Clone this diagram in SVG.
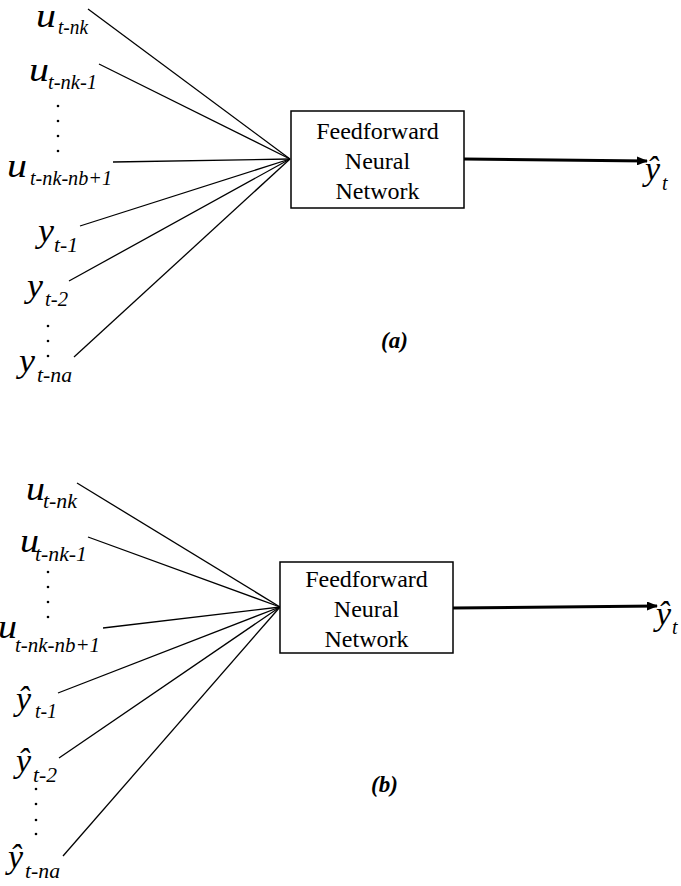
<svg xmlns="http://www.w3.org/2000/svg" width="681" height="886" viewBox="0 0 681 886">
<style>
text{font-family:"Liberation Serif","DejaVu Serif",serif;fill:#000}
.v{font-style:italic;font-size:34px}
.s{font-style:italic;font-size:20px}
.b{font-size:24px;text-anchor:middle}
.cap{font-style:italic;font-weight:bold;font-size:23px}
.ln{stroke:#000;stroke-width:1.3;fill:none}
.box{stroke:#000;stroke-width:1.5;fill:#fff}
.arr{stroke:#000;stroke-width:3;fill:none}
.dot{fill:#000}
</style>
<defs>
<marker id="ah" markerWidth="11" markerHeight="9" refX="10" refY="4.5" orient="auto" markerUnits="userSpaceOnUse">
<path d="M0,0 L11,4.5 L0,9 Z" fill="#000"/>
</marker>
</defs>

<!-- Diagram (a) -->
<g id="connectors-a">
<line class="ln" x1="88" y1="9" x2="290" y2="159"/>
<line class="ln" x1="99" y1="64" x2="290" y2="159"/>
<line class="ln" x1="113" y1="162" x2="290" y2="159"/>
<line class="ln" x1="80" y1="226" x2="290" y2="159"/>
<line class="ln" x1="69" y1="281" x2="290" y2="159"/>
<line class="ln" x1="74" y1="357" x2="290" y2="159"/>
<line class="arr" x1="464" y1="159" x2="647" y2="161" marker-end="url(#ah)"/>
</g>
<g id="box-a">
<rect class="box" x="291" y="111" width="173" height="97"/>
<text class="b" x="377.5" y="139">Feedforward</text>
<text class="b" x="377.5" y="169">Neural</text>
<text class="b" x="377.5" y="199">Network</text>
</g>
<g id="in-a-u1"><text class="v" x="36" y="27" textLength="20" lengthAdjust="spacingAndGlyphs">u</text><text class="s" x="58" y="34" textLength="30" lengthAdjust="spacingAndGlyphs">t-nk</text></g>
<g id="in-a-u2"><text class="v" x="29" y="81" textLength="20" lengthAdjust="spacingAndGlyphs">u</text><text class="s" x="48" y="89" textLength="49" lengthAdjust="spacingAndGlyphs">t-nk-1</text></g>
<g id="dots-a-u">
<circle class="dot" cx="58" cy="106" r="1.3"/><circle class="dot" cx="58" cy="121" r="1.3"/><circle class="dot" cx="58" cy="136" r="1.3"/><circle class="dot" cx="58" cy="151" r="1.3"/>
</g>
<g id="in-a-u3"><text class="v" x="7" y="177" textLength="20" lengthAdjust="spacingAndGlyphs">u</text><text class="s" x="30" y="185" textLength="82" lengthAdjust="spacingAndGlyphs">t-nk-nb+1</text></g>
<g id="in-a-y1"><text class="v" x="38" y="242" textLength="16" lengthAdjust="spacingAndGlyphs">y</text><text class="s" x="54" y="252" textLength="24" lengthAdjust="spacingAndGlyphs">t-1</text></g>
<g id="in-a-y2"><text class="v" x="27" y="297" textLength="16" lengthAdjust="spacingAndGlyphs">y</text><text class="s" x="45" y="306" textLength="23" lengthAdjust="spacingAndGlyphs">t-2</text></g>
<g id="dots-a-y">
<circle class="dot" cx="48" cy="326" r="1.3"/><circle class="dot" cx="48" cy="341" r="1.3"/><circle class="dot" cx="48" cy="356" r="1.3"/>
</g>
<g id="in-a-yn"><text class="v" x="19" y="372" textLength="16" lengthAdjust="spacingAndGlyphs">y</text><text class="s" x="37" y="382" textLength="35" lengthAdjust="spacingAndGlyphs">t-na</text></g>
<g id="out-a"><text class="v" x="645" y="180">ŷ</text><text class="s" x="662" y="190">t</text></g>
<g id="cap-a"><text class="cap" x="381" y="348">(a)</text></g>

<!-- Diagram (b) -->
<g id="connectors-b">
<line class="ln" x1="77" y1="483" x2="280" y2="607"/>
<line class="ln" x1="88" y1="537" x2="280" y2="607"/>
<line class="ln" x1="103" y1="628" x2="280" y2="607"/>
<line class="ln" x1="58" y1="693" x2="280" y2="607"/>
<line class="ln" x1="59" y1="758" x2="280" y2="607"/>
<line class="ln" x1="63" y1="856" x2="280" y2="607"/>
<line class="arr" x1="453" y1="608" x2="657" y2="606" marker-end="url(#ah)"/>
</g>
<g id="box-b">
<rect class="box" x="280" y="562" width="173" height="91"/>
<text class="b" x="366.5" y="587">Feedforward</text>
<text class="b" x="366.5" y="617">Neural</text>
<text class="b" x="366.5" y="647">Network</text>
</g>
<g id="in-b-u1"><text class="v" x="26" y="500" textLength="19" lengthAdjust="spacingAndGlyphs">u</text><text class="s" x="43" y="508" textLength="34" lengthAdjust="spacingAndGlyphs">t-nk</text></g>
<g id="in-b-u2"><text class="v" x="20" y="552" textLength="19" lengthAdjust="spacingAndGlyphs">u</text><text class="s" x="35" y="561" textLength="52" lengthAdjust="spacingAndGlyphs">t-nk-1</text></g>
<g id="dots-b-u">
<circle class="dot" cx="48" cy="572" r="1.3"/><circle class="dot" cx="48" cy="587" r="1.3"/><circle class="dot" cx="48" cy="602" r="1.3"/><circle class="dot" cx="48" cy="617" r="1.3"/>
</g>
<g id="in-b-u3"><text class="v" x="-2" y="638" textLength="19" lengthAdjust="spacingAndGlyphs">u</text><text class="s" x="15" y="652" textLength="85" lengthAdjust="spacingAndGlyphs">t-nk-nb+1</text></g>
<g id="in-b-y1"><text class="v" x="16" y="710">ŷ</text><text class="s" x="35" y="718" textLength="22" lengthAdjust="spacingAndGlyphs">t-1</text></g>
<g id="in-b-y2"><text class="v" x="16" y="772">ŷ</text><text class="s" x="33" y="782" textLength="24" lengthAdjust="spacingAndGlyphs">t-2</text></g>
<g id="dots-b-y">
<circle class="dot" cx="36" cy="789" r="1.3"/><circle class="dot" cx="36" cy="804" r="1.3"/><circle class="dot" cx="36" cy="820" r="1.3"/><circle class="dot" cx="36" cy="834" r="1.3"/>
</g>
<g id="in-b-yn"><text class="v" x="8" y="868">ŷ</text><text class="s" x="25" y="878" textLength="35" lengthAdjust="spacingAndGlyphs">t-na</text></g>
<g id="out-b"><text class="v" x="656" y="625">ŷ</text><text class="s" x="672" y="634">t</text></g>
<g id="cap-b"><text class="cap" x="371" y="792">(b)</text></g>
</svg>
